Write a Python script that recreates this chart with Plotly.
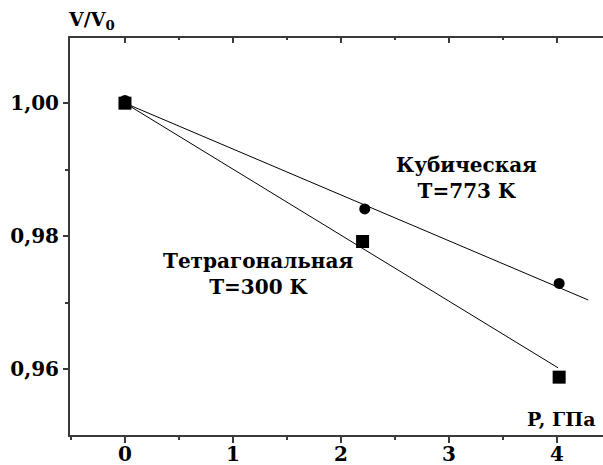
import plotly.graph_objects as go

# Data
p_cubic = [0.0, 2.22, 4.02]
v_cubic = [1.0004, 0.9841, 0.9729]
p_tetra = [0.0, 2.20, 4.02]
v_tetra = [1.0000, 0.9792, 0.9588]

# fitted straight lines (end points)
fit_cubic_p = [0.0, 4.29]
fit_cubic_v = [1.000, 0.9704]
fit_tetra_p = [0.0, 4.01]
fit_tetra_v = [1.000, 0.9602]

x_ticks = [0, 1, 2, 3, 4]
y_ticks = [0.96, 0.98, 1.00]
y_labels = ["0,96", "0,98", "1,00"]

FONT = "DejaVu Serif"
AX = "#3a3a3a"
xr = [-0.509, 4.426]
yr = [0.9501, 1.0098]

fig = go.Figure()
# invisible trace bound to the bottom axis so that it gets drawn
fig.add_trace(go.Scatter(x=p_tetra, y=v_tetra, xaxis="x", yaxis="y", mode="markers",
                         marker=dict(opacity=0), hoverinfo="skip", showlegend=False))
# visible marks on the top-axis subplot (same range), drawn above everything
fig.add_trace(go.Scatter(x=fit_cubic_p, y=fit_cubic_v, xaxis="x2", mode="lines",
                         line=dict(color="black", width=1), showlegend=False))
fig.add_trace(go.Scatter(x=fit_tetra_p, y=fit_tetra_v, xaxis="x2", mode="lines",
                         line=dict(color="black", width=1), showlegend=False))
fig.add_trace(go.Scatter(x=p_cubic, y=v_cubic, xaxis="x2", mode="markers",
                         marker=dict(symbol="circle", size=11, color="black"), showlegend=False))
fig.add_trace(go.Scatter(x=p_tetra, y=v_tetra, xaxis="x2", mode="markers",
                         marker=dict(symbol="square", size=13, color="black"), showlegend=False))

tick_font = dict(family=FONT, size=20, color="black", weight="bold")

fig.update_layout(
    width=603, height=465,
    margin=dict(l=70, r=0, t=38, b=30, autoexpand=False),
    paper_bgcolor="white", plot_bgcolor="rgba(0,0,0,0)",
    font=dict(family=FONT, size=18, color="black"),
    xaxis=dict(range=xr, tickvals=x_ticks, ticks="outside", ticklen=6, tickwidth=2,
               tickcolor=AX, showline=True, linecolor=AX, linewidth=2,
               showgrid=False, zeroline=False, tickfont=tick_font, ticklabelstandoff=-6,
               minor=dict(dtick=0.5, ticks="outside", ticklen=3, tickwidth=2, tickcolor=AX)),
    xaxis2=dict(range=xr, side="top", anchor="y", domain=[0, 1],
                tickvals=x_ticks, ticks="inside", ticklen=5, tickwidth=2, tickcolor=AX,
                showline=True, linecolor=AX, linewidth=2, showgrid=False, zeroline=False,
                showticklabels=False,
                minor=dict(dtick=0.5, ticks="inside", ticklen=2, tickwidth=2, tickcolor=AX)),
    yaxis=dict(range=yr, tickvals=y_ticks, ticktext=y_labels, ticks="outside", ticklen=5,
               tickwidth=2, tickcolor=AX, showline=True, linecolor=AX, linewidth=2,
               showgrid=False, zeroline=False, tickfont=tick_font, ticklabelstandoff=0,
               minor=dict(dtick=0.01, ticks="outside", ticklen=3, tickwidth=2, tickcolor=AX)),
)

fig.add_annotation(text="<b>V/V<sub>0</sub></b>", xref="paper", yref="paper", x=0, y=1.0,
                   xanchor="left", yanchor="bottom", yshift=3, xshift=-4, showarrow=False,
                   font=dict(family=FONT, size=19))
fig.add_annotation(text="<b>P, ГПа</b>", x=3.70, y=0.9525, xanchor="left",
                   showarrow=False, font=dict(family=FONT, size=19))
fig.add_annotation(text="<b>Кубическая<br>T=773 K</b>", x=3.16, y=0.9887, showarrow=False,
                   font=dict(family=FONT, size=20), align="center")
fig.add_annotation(text="<b>Тетрагональная<br>T=300 K</b>", x=1.23, y=0.9743, showarrow=False,
                   font=dict(family=FONT, size=20), align="center")

fig.write_html("out.html", config={"displayModeBar": False},
               post_script="document.body.style.margin='0';")
